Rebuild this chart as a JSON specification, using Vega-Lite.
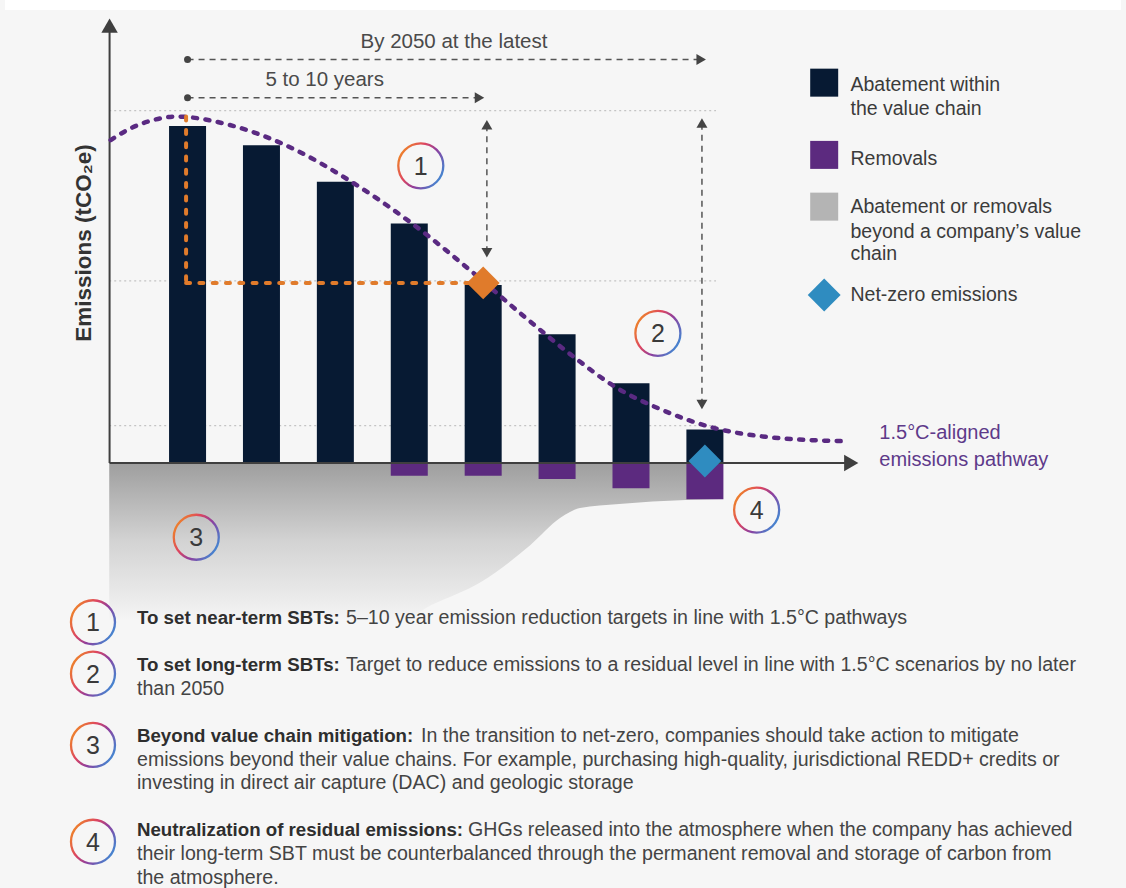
{
  "$schema": "https://vega.github.io/schema/vega-lite/v6.json",
  "background": "#f6f6f6",
  "padding": 0,
  "spacing": 0,
  "bounds": "flush",
  "config": {"view": {"stroke": null}, "font": "Liberation Sans"},
  "datasets": {
    "strip": [{"x0": -1.47, "x1": 13.63, "y0": 134.82, "y1": 137.8}],
    "beyond": [
      {"x": -0.06, "lo": -46.7}, {"x": 3.9, "lo": -46.7}, {"x": 4.3, "lo": -42.3},
      {"x": 4.97, "lo": -35.4}, {"x": 5.64, "lo": -24.4}, {"x": 6.04, "lo": -16.4},
      {"x": 6.31, "lo": -13.4}, {"x": 6.84, "lo": -12.2}, {"x": 7.74, "lo": -11.0}, {"x": 8.23, "lo": -10.7}
    ],
    "guides": [
      {"level": 104.85, "x0": -0.06, "x1": 8.15},
      {"level": 54.2, "x0": -0.06, "x1": 8.15},
      {"level": 11.1, "x0": -0.06, "x1": 8.15}
    ],
    "bars": [
      {"period": 1, "abatement": 100.3, "removal": 0},
      {"period": 2, "abatement": 94.6, "removal": 0},
      {"period": 3, "abatement": 83.7, "removal": 0},
      {"period": 4, "abatement": 71.3, "removal": -3.8},
      {"period": 5, "abatement": 53.0, "removal": -3.8},
      {"period": 6, "abatement": 38.3, "removal": -4.8},
      {"period": 7, "abatement": 23.7, "removal": -7.5},
      {"period": 8, "abatement": 10.0, "removal": -10.8}
    ],
    "axes": [
      {"axis": "emissions", "x0": -0.055, "x1": -0.055, "y0": 0, "y1": 129.5},
      {"axis": "time", "x0": -0.055, "x1": 9.9, "y0": 0, "y1": 0}
    ],
    "axisHeads": [
      {"x": -0.055, "y": 130.2, "dir": "up"},
      {"x": 9.98, "y": 0, "dir": "right"}
    ],
    "pathway": [
      {"x": -0.04, "y": 96.1}, {"x": 0.23, "y": 99.6}, {"x": 0.54, "y": 102.1}, {"x": 0.85, "y": 103.1},
      {"x": 1.57, "y": 100.6}, {"x": 2.46, "y": 93.2}, {"x": 3.18, "y": 84.2}, {"x": 4.03, "y": 71.4},
      {"x": 4.87, "y": 56.5}, {"x": 5.5, "y": 44.6}, {"x": 6.23, "y": 31.5}, {"x": 6.79, "y": 22.6},
      {"x": 7.42, "y": 15.8}, {"x": 8.13, "y": 10.4}, {"x": 8.86, "y": 7.7}, {"x": 9.86, "y": 6.5}
    ],
    "target": [
      {"x0": 0.98, "x1": 0.98, "y0": 103.1, "y1": 53.6},
      {"x0": 0.98, "x1": 5.0, "y0": 53.6, "y1": 53.6}
    ],
    "arrows": [
      {"x0": 1, "x1": 7.9, "y0": 120.1, "y1": 120.1},
      {"x0": 1, "x1": 4.9, "y0": 108.7, "y1": 108.7},
      {"x0": 5.05, "x1": 5.05, "y0": 100.5, "y1": 62.8},
      {"x0": 7.96, "x1": 7.96, "y0": 101.0, "y1": 17.6}
    ],
    "arrowHeads": [
      {"x": 7.95, "y": 120.1, "dir": "right"},
      {"x": 4.95, "y": 108.7, "dir": "right"},
      {"x": 5.05, "y": 100.7, "dir": "up"},
      {"x": 5.05, "y": 62.6, "dir": "down"},
      {"x": 7.96, "y": 101.2, "dir": "up"},
      {"x": 7.96, "y": 17.4, "dir": "down"}
    ],
    "dots": [{"x": 1, "y": 120.1}, {"x": 1, "y": 108.7}],
    "legendKeys": [
      {"kind": "abatement", "x": 9.614, "y": 113.2},
      {"kind": "removals", "x": 9.614, "y": 91.7},
      {"kind": "beyond", "x": 9.614, "y": 76.3}
    ],
    "diamonds": [
      {"kind": "target", "x": 5.0, "y": 53.6},
      {"kind": "netzero", "x": 8.0, "y": 0.6},
      {"kind": "netzero", "x": 9.614, "y": 50.0}
    ],
    "legendText": [
      {"x": 9.97, "y": 112.5, "text": "Abatement within"},
      {"x": 9.97, "y": 105.3, "text": "the value chain"},
      {"x": 9.97, "y": 90.4, "text": "Removals"},
      {"x": 9.97, "y": 76.3, "text": "Abatement or removals"},
      {"x": 9.97, "y": 68.8, "text": "beyond a company’s value"},
      {"x": 9.97, "y": 62.1, "text": "chain"},
      {"x": 9.97, "y": 50.0, "text": "Net-zero emissions"}
    ],
    "arrowText": [
      {"x": 4.605, "y": 125.3, "text": "By 2050 at the latest"},
      {"x": 2.855, "y": 114.0, "text": "5 to 10 years"}
    ],
    "pathwayText": [
      {"x": 10.36, "y": 8.84, "text": "1.5°C-aligned"},
      {"x": 10.36, "y": 0.89, "text": "emissions pathway"}
    ],
    "yTitle": [{"x": -0.4, "y": 65.5, "text": "Emissions (tCO₂e)"}],
    "chartMarkers": [
      {"n": "1", "x": 4.156, "y": 88.45},
      {"n": "2", "x": 7.364, "y": 38.6},
      {"n": "3", "x": 1.118, "y": -22.1},
      {"n": "4", "x": 8.7, "y": -14.0}
    ],
    "noteMarkers": [
      {"n": "1", "x": -0.223, "line": 0.18},
      {"n": "2", "x": -0.223, "line": 2.36},
      {"n": "3", "x": -0.223, "line": 5.38},
      {"n": "4", "x": -0.223, "line": 9.48}
    ],
    "noteHeads": [
      {"line": 0, "x": 0.367, "text": "To set near-term SBTs:"},
      {"line": 2, "x": 0.367, "text": "To set long-term SBTs:"},
      {"line": 5, "x": 0.367, "text": "Beyond value chain mitigation:"},
      {"line": 9, "x": 0.367, "text": "Neutralization of residual emissions:"}
    ],
    "noteBody": [
      {"line": 0, "x": 3.17, "text": "5–10 year emission reduction targets in line with 1.5°C pathways"},
      {"line": 2, "x": 3.17, "text": "Target to reduce emissions to a residual level in line with 1.5°C scenarios by no later"},
      {"line": 3, "x": 0.367, "text": "than 2050"},
      {"line": 5, "x": 4.176, "text": "In the transition to net-zero, companies should take action to mitigate"},
      {"line": 6, "x": 0.367, "text": "emissions beyond their value chains. For example, purchasing high-quality, jurisdictional REDD+ credits or"},
      {"line": 7, "x": 0.367, "text": "investing in direct air capture (DAC) and geologic storage"},
      {"line": 9, "x": 4.806, "text": "GHGs released into the atmosphere when the company has achieved"},
      {"line": 10, "x": 0.367, "text": "their long-term SBT must be counterbalanced through the permanent removal and storage of carbon from"},
      {"line": 11, "x": 0.367, "text": "the atmosphere."}
    ]
  },
  "vconcat": [
    {
      "width": 1126,
      "height": 590,
      "layer": [
        {
          "data": {"name": "strip"},
          "mark": {"type": "rect", "color": "#ffffff"},
          "encoding": {
            "x": {"field": "x0", "type": "quantitative", "scale": {"domain": [-1.47, 13.63], "nice": false, "zero": false}, "axis": null},
            "x2": {"field": "x1"},
            "y": {"field": "y0", "type": "quantitative", "scale": {"domain": [-37.8, 137.8], "nice": false, "zero": false}, "axis": null},
            "y2": {"field": "y1"}
          }
        },
        {
          "data": {"name": "beyond"},
          "mark": {"type": "area", "interpolate": "monotone",
            "color": {"gradient": "linear", "x1": 0, "y1": 0, "x2": 0, "y2": 1,
              "stops": [{"offset": 0, "color": "#9e9e9e"}, {"offset": 0.5, "color": "#d3d3d3"}, {"offset": 0.85, "color": "#eaeaea"}, {"offset": 1, "color": "#f5f5f5"}]}},
          "encoding": {
            "x": {"field": "x", "type": "quantitative", "scale": {"domain": [-1.47, 13.63], "nice": false, "zero": false}, "axis": null},
            "y": {"field": "lo", "type": "quantitative", "scale": {"domain": [-37.8, 137.8], "nice": false, "zero": false}, "axis": null},
            "y2": {"datum": 0}
          }
        },
        {
          "data": {"name": "guides"},
          "mark": {"type": "rule", "color": "#c4c4c4", "strokeWidth": 1.3, "strokeDash": [2, 3]},
          "encoding": {
            "x": {"field": "x0", "type": "quantitative", "scale": {"domain": [-1.47, 13.63], "nice": false, "zero": false}, "axis": null},
            "x2": {"field": "x1"},
            "y": {"field": "level", "type": "quantitative", "scale": {"domain": [-37.8, 137.8], "nice": false, "zero": false}, "axis": null}
          }
        },
        {
          "data": {"name": "bars"},
          "mark": {"type": "bar", "width": 37, "color": "#071a33", "orient": "vertical"},
          "encoding": {
            "x": {"field": "period", "type": "quantitative", "scale": {"domain": [-1.47, 13.63], "nice": false, "zero": false}, "axis": null},
            "y": {"field": "abatement", "type": "quantitative", "stack": null, "scale": {"domain": [-37.8, 137.8], "nice": false, "zero": false}, "axis": null},
            "y2": {"datum": 0}
          }
        },
        {
          "data": {"name": "bars"},
          "transform": [{"filter": "datum.removal < 0"}],
          "mark": {"type": "bar", "width": 37, "color": "#5c2a7f", "orient": "vertical"},
          "encoding": {
            "x": {"field": "period", "type": "quantitative", "scale": {"domain": [-1.47, 13.63], "nice": false, "zero": false}, "axis": null},
            "y": {"field": "removal", "type": "quantitative", "stack": null, "scale": {"domain": [-37.8, 137.8], "nice": false, "zero": false}, "axis": null},
            "y2": {"datum": 0}
          }
        },
        {
          "data": {"name": "axes"},
          "mark": {"type": "rule", "color": "#3f3f3f", "strokeWidth": 2},
          "encoding": {
            "x": {"field": "x0", "type": "quantitative", "scale": {"domain": [-1.47, 13.63], "nice": false, "zero": false}, "axis": null},
            "x2": {"field": "x1"},
            "y": {"field": "y0", "type": "quantitative", "scale": {"domain": [-37.8, 137.8], "nice": false, "zero": false}, "axis": null},
            "y2": {"field": "y1"}
          }
        },
        {
          "data": {"name": "axisHeads"},
          "mark": {"type": "point", "filled": true, "opacity": 1, "size": 270, "color": "#3f3f3f"},
          "encoding": {
            "x": {"field": "x", "type": "quantitative", "scale": {"domain": [-1.47, 13.63], "nice": false, "zero": false}, "axis": null},
            "y": {"field": "y", "type": "quantitative", "scale": {"domain": [-37.8, 137.8], "nice": false, "zero": false}, "axis": null},
            "shape": {"field": "dir", "type": "nominal", "scale": {"domain": ["up", "down", "right"], "range": ["triangle-up", "triangle-down", "triangle-right"]}, "legend": null}
          }
        },
        {
          "data": {"name": "pathway"},
          "mark": {"type": "line", "interpolate": "monotone", "color": "#5a2a82", "strokeWidth": 4.5, "strokeDash": [4, 8.5], "strokeCap": "round"},
          "encoding": {
            "x": {"field": "x", "type": "quantitative", "scale": {"domain": [-1.47, 13.63], "nice": false, "zero": false}, "axis": null},
            "y": {"field": "y", "type": "quantitative", "scale": {"domain": [-37.8, 137.8], "nice": false, "zero": false}, "axis": null}
          }
        },
        {
          "data": {"name": "target"},
          "mark": {"type": "rule", "color": "#e07b2b", "strokeWidth": 4, "strokeDash": [4, 9.3], "strokeCap": "round"},
          "encoding": {
            "x": {"field": "x0", "type": "quantitative", "scale": {"domain": [-1.47, 13.63], "nice": false, "zero": false}, "axis": null},
            "x2": {"field": "x1"},
            "y": {"field": "y0", "type": "quantitative", "scale": {"domain": [-37.8, 137.8], "nice": false, "zero": false}, "axis": null},
            "y2": {"field": "y1"}
          }
        },
        {
          "data": {"name": "arrows"},
          "mark": {"type": "rule", "color": "#555555", "strokeWidth": 1.5, "strokeDash": [6, 5]},
          "encoding": {
            "x": {"field": "x0", "type": "quantitative", "scale": {"domain": [-1.47, 13.63], "nice": false, "zero": false}, "axis": null},
            "x2": {"field": "x1"},
            "y": {"field": "y0", "type": "quantitative", "scale": {"domain": [-37.8, 137.8], "nice": false, "zero": false}, "axis": null},
            "y2": {"field": "y1"}
          }
        },
        {
          "data": {"name": "arrowHeads"},
          "mark": {"type": "point", "filled": true, "opacity": 1, "size": 120, "color": "#444444"},
          "encoding": {
            "x": {"field": "x", "type": "quantitative", "scale": {"domain": [-1.47, 13.63], "nice": false, "zero": false}, "axis": null},
            "y": {"field": "y", "type": "quantitative", "scale": {"domain": [-37.8, 137.8], "nice": false, "zero": false}, "axis": null},
            "shape": {"field": "dir", "type": "nominal", "scale": {"domain": ["up", "down", "right"], "range": ["triangle-up", "triangle-down", "triangle-right"]}, "legend": null}
          }
        },
        {
          "data": {"name": "dots"},
          "mark": {"type": "point", "shape": "circle", "filled": true, "opacity": 1, "size": 49, "color": "#444444"},
          "encoding": {
            "x": {"field": "x", "type": "quantitative", "scale": {"domain": [-1.47, 13.63], "nice": false, "zero": false}, "axis": null},
            "y": {"field": "y", "type": "quantitative", "scale": {"domain": [-37.8, 137.8], "nice": false, "zero": false}, "axis": null}
          }
        },
        {
          "data": {"name": "legendKeys"},
          "mark": {"type": "point", "shape": "square", "filled": true, "opacity": 1, "size": 784},
          "encoding": {
            "x": {"field": "x", "type": "quantitative", "scale": {"domain": [-1.47, 13.63], "nice": false, "zero": false}, "axis": null},
            "y": {"field": "y", "type": "quantitative", "scale": {"domain": [-37.8, 137.8], "nice": false, "zero": false}, "axis": null},
            "color": {"field": "kind", "type": "nominal", "scale": {"domain": ["abatement", "removals", "beyond", "target", "netzero"], "range": ["#071a33", "#5c2a7f", "#b4b4b4", "#e07b2b", "#2f8cc0"]}, "legend": null}
          }
        },
        {
          "data": {"name": "diamonds"},
          "mark": {"type": "point", "shape": "diamond", "filled": true, "opacity": 1, "size": 1080},
          "encoding": {
            "x": {"field": "x", "type": "quantitative", "scale": {"domain": [-1.47, 13.63], "nice": false, "zero": false}, "axis": null},
            "y": {"field": "y", "type": "quantitative", "scale": {"domain": [-37.8, 137.8], "nice": false, "zero": false}, "axis": null},
            "color": {"field": "kind", "type": "nominal", "scale": {"domain": ["abatement", "removals", "beyond", "target", "netzero"], "range": ["#071a33", "#5c2a7f", "#b4b4b4", "#e07b2b", "#2f8cc0"]}, "legend": null}
          }
        },
        {
          "data": {"name": "legendText"},
          "mark": {"type": "text", "align": "left", "baseline": "middle", "fontSize": 19.5, "color": "#3b3b3b"},
          "encoding": {
            "x": {"field": "x", "type": "quantitative", "scale": {"domain": [-1.47, 13.63], "nice": false, "zero": false}, "axis": null},
            "y": {"field": "y", "type": "quantitative", "scale": {"domain": [-37.8, 137.8], "nice": false, "zero": false}, "axis": null},
            "text": {"field": "text"}
          }
        },
        {
          "data": {"name": "arrowText"},
          "mark": {"type": "text", "align": "center", "baseline": "middle", "fontSize": 20.5, "color": "#4a4a4a"},
          "encoding": {
            "x": {"field": "x", "type": "quantitative", "scale": {"domain": [-1.47, 13.63], "nice": false, "zero": false}, "axis": null},
            "y": {"field": "y", "type": "quantitative", "scale": {"domain": [-37.8, 137.8], "nice": false, "zero": false}, "axis": null},
            "text": {"field": "text"}
          }
        },
        {
          "data": {"name": "pathwayText"},
          "mark": {"type": "text", "align": "left", "baseline": "middle", "fontSize": 20, "color": "#5e3a8a"},
          "encoding": {
            "x": {"field": "x", "type": "quantitative", "scale": {"domain": [-1.47, 13.63], "nice": false, "zero": false}, "axis": null},
            "y": {"field": "y", "type": "quantitative", "scale": {"domain": [-37.8, 137.8], "nice": false, "zero": false}, "axis": null},
            "text": {"field": "text"}
          }
        },
        {
          "data": {"name": "yTitle"},
          "mark": {"type": "text", "align": "center", "baseline": "middle", "angle": 270, "fontSize": 22.5, "fontWeight": "bold", "color": "#333333"},
          "encoding": {
            "x": {"field": "x", "type": "quantitative", "scale": {"domain": [-1.47, 13.63], "nice": false, "zero": false}, "axis": null},
            "y": {"field": "y", "type": "quantitative", "scale": {"domain": [-37.8, 137.8], "nice": false, "zero": false}, "axis": null},
            "text": {"field": "text"}
          }
        },
        {
          "data": {"name": "chartMarkers"},
          "mark": {"type": "point", "shape": "circle", "filled": false, "opacity": 1, "size": 2025, "strokeWidth": 2.3,
            "stroke": {"gradient": "linear", "x1": 0, "y1": 0.2, "x2": 1, "y2": 0.8,
              "stops": [{"offset": 0, "color": "#f08a24"}, {"offset": 0.35, "color": "#dd4560"}, {"offset": 0.6, "color": "#8e3f9e"}, {"offset": 1, "color": "#3a90d8"}]}},
          "encoding": {
            "x": {"field": "x", "type": "quantitative", "scale": {"domain": [-1.47, 13.63], "nice": false, "zero": false}, "axis": null},
            "y": {"field": "y", "type": "quantitative", "scale": {"domain": [-37.8, 137.8], "nice": false, "zero": false}, "axis": null}
          }
        },
        {
          "data": {"name": "chartMarkers"},
          "mark": {"type": "text", "align": "center", "baseline": "middle", "fontSize": 25, "color": "#3a3a3a", "dy": 1},
          "encoding": {
            "x": {"field": "x", "type": "quantitative", "scale": {"domain": [-1.47, 13.63], "nice": false, "zero": false}, "axis": null},
            "y": {"field": "y", "type": "quantitative", "scale": {"domain": [-37.8, 137.8], "nice": false, "zero": false}, "axis": null},
            "text": {"field": "n"}
          }
        }
      ]
    },
    {
      "width": 1126,
      "height": 298,
      "layer": [
        {
          "data": {"name": "noteMarkers"},
          "mark": {"type": "point", "shape": "circle", "filled": false, "opacity": 1, "size": 1936, "strokeWidth": 2.3,
            "stroke": {"gradient": "linear", "x1": 0, "y1": 0.2, "x2": 1, "y2": 0.8,
              "stops": [{"offset": 0, "color": "#f08a24"}, {"offset": 0.35, "color": "#dd4560"}, {"offset": 0.6, "color": "#8e3f9e"}, {"offset": 1, "color": "#3a90d8"}]}},
          "encoding": {
            "x": {"field": "x", "type": "quantitative", "scale": {"domain": [-1.47, 13.63], "nice": false, "zero": false}, "axis": null},
            "y": {"field": "line", "type": "quantitative", "scale": {"domain": [-1.186, 11.44], "reverse": true, "nice": false, "zero": false}, "axis": null}
          }
        },
        {
          "data": {"name": "noteMarkers"},
          "mark": {"type": "text", "align": "center", "baseline": "middle", "fontSize": 25, "color": "#3a3a3a", "dy": 1},
          "encoding": {
            "x": {"field": "x", "type": "quantitative", "scale": {"domain": [-1.47, 13.63], "nice": false, "zero": false}, "axis": null},
            "y": {"field": "line", "type": "quantitative", "scale": {"domain": [-1.186, 11.44], "reverse": true, "nice": false, "zero": false}, "axis": null},
            "text": {"field": "n"}
          }
        },
        {
          "data": {"name": "noteHeads"},
          "mark": {"type": "text", "align": "left", "baseline": "middle", "fontSize": 18.7, "fontWeight": "bold", "color": "#2e2e2e"},
          "encoding": {
            "x": {"field": "x", "type": "quantitative", "scale": {"domain": [-1.47, 13.63], "nice": false, "zero": false}, "axis": null},
            "y": {"field": "line", "type": "quantitative", "scale": {"domain": [-1.186, 11.44], "reverse": true, "nice": false, "zero": false}, "axis": null},
            "text": {"field": "text"}
          }
        },
        {
          "data": {"name": "noteBody"},
          "mark": {"type": "text", "align": "left", "baseline": "middle", "fontSize": 19.6, "color": "#444444"},
          "encoding": {
            "x": {"field": "x", "type": "quantitative", "scale": {"domain": [-1.47, 13.63], "nice": false, "zero": false}, "axis": null},
            "y": {"field": "line", "type": "quantitative", "scale": {"domain": [-1.186, 11.44], "reverse": true, "nice": false, "zero": false}, "axis": null},
            "text": {"field": "text"}
          }
        }
      ]
    }
  ]
}
